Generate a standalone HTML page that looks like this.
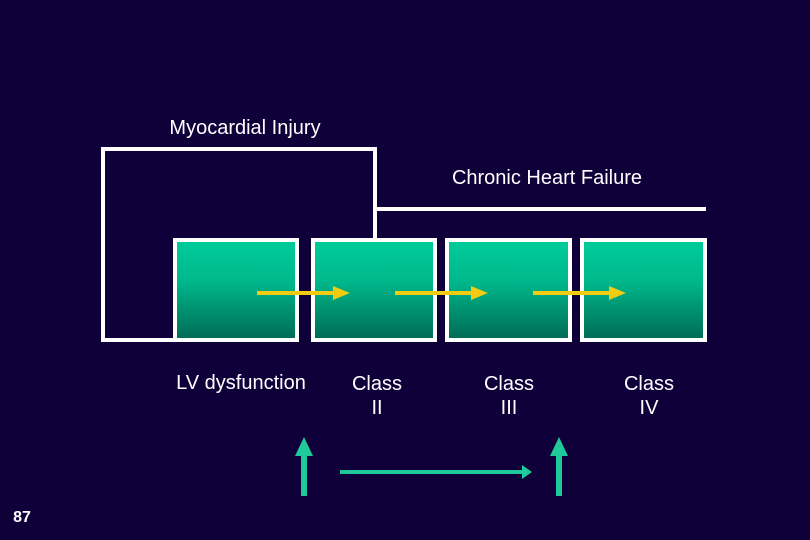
<!DOCTYPE html>
<html><head><meta charset="utf-8"><style>
html,body{margin:0;padding:0;background:#10003a;}
svg{display:block;}
text{font-family:"Liberation Sans",Arial,sans-serif;fill:#fff;}
</style></head><body>
<svg width="810" height="540" viewBox="0 0 810 540">
<defs>
<linearGradient id="g" x1="0" y1="0" x2="0" y2="1">
<stop offset="0" stop-color="#00cc99"/>
<stop offset="0.4" stop-color="#00b98c"/>
<stop offset="1" stop-color="#006a55"/>
</linearGradient>
</defs>
<rect width="810" height="540" fill="#10003a"/>
<text x="245" y="134" font-size="20" text-anchor="middle">Myocardial Injury</text>
<text x="547" y="184" font-size="20" text-anchor="middle">Chronic Heart Failure</text>
<polyline points="375,238 375,149 103,149 103,340 175,340" fill="none" stroke="#fff" stroke-width="4"/>
<line x1="375" y1="209" x2="706" y2="209" stroke="#fff" stroke-width="4"/>
<rect x="175" y="240" width="122" height="100" fill="url(#g)" stroke="#fff" stroke-width="4"/>
<rect x="313" y="240" width="122" height="100" fill="url(#g)" stroke="#fff" stroke-width="4"/>
<rect x="447" y="240" width="123" height="100" fill="url(#g)" stroke="#fff" stroke-width="4"/>
<rect x="582" y="240" width="123" height="100" fill="url(#g)" stroke="#fff" stroke-width="4"/>
<g stroke="#f2cc10" stroke-width="4" fill="#f2cc10">
<line x1="257" y1="293" x2="335" y2="293"/><polygon points="333,286 350,293 333,300" stroke="none"/>
<line x1="395" y1="293" x2="473" y2="293"/><polygon points="471,286 488,293 471,300" stroke="none"/>
<line x1="533" y1="293" x2="611" y2="293"/><polygon points="609,286 626,293 609,300" stroke="none"/>
</g>
<text x="241" y="389" font-size="20" text-anchor="middle">LV dysfunction</text>
<text x="377" y="390" font-size="20" text-anchor="middle">Class</text>
<text x="377" y="414" font-size="20" text-anchor="middle">II</text>
<text x="509" y="390" font-size="20" text-anchor="middle">Class</text>
<text x="509" y="414" font-size="20" text-anchor="middle">III</text>
<text x="649" y="390" font-size="20" text-anchor="middle">Class</text>
<text x="649" y="414" font-size="20" text-anchor="middle">IV</text>
<g fill="#1fc99a" stroke="none">
<rect x="301" y="455" width="6" height="41"/><polygon points="295,456 304,437 313,456"/>
<rect x="556" y="455" width="6" height="41"/><polygon points="550,456 559,437 568,456"/>
<rect x="340" y="470" width="184" height="4"/><polygon points="522,465 532,472 522,479"/>
</g>
<text x="22" y="522" font-size="16" font-weight="bold" text-anchor="middle">87</text>
</svg>
</body></html>
